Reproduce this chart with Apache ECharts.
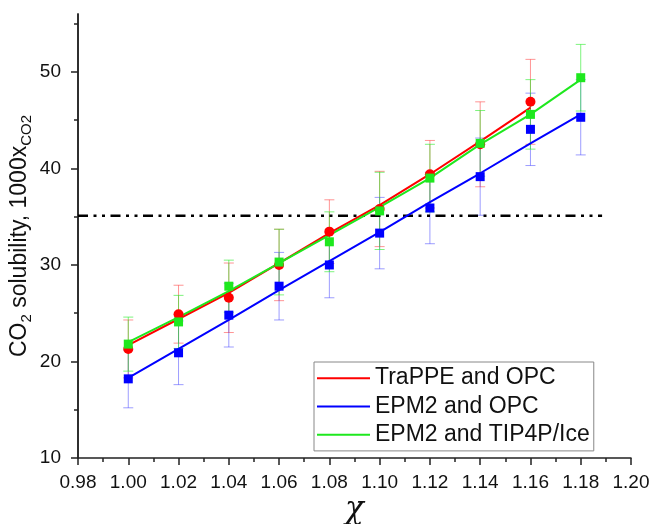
<!DOCTYPE html>
<html>
<head>
<meta charset="utf-8">
<script src="https://cdn.jsdelivr.net/npm/echarts@6/dist/echarts.min.js"></script>
<style>
  html, body { margin: 0; padding: 0; background: #ffffff; }
  #chart { width: 651px; height: 524px; }
</style>
</head>
<body>
<div id="chart"></div>
<script>
// ---- data ----
const xValues = [1.00, 1.02, 1.04, 1.06, 1.08, 1.10, 1.12, 1.14, 1.16, 1.18];
const xTickLabels = ['0.98', '1.00', '1.02', '1.04', '1.06', '1.08', '1.10', '1.12', '1.14', '1.16', '1.18', '1.20'];
const yTickValues = [10, 20, 30, 40, 50];
const yMinorTickValues = [15, 25, 35, 45, 55];

const seriesNames = ['TraPPE and OPC', 'EPM2 and OPC', 'EPM2 and TIP4P/Ice'];

const trappeOpc = [21.3, 24.9, 26.6, 30.0, 33.45, 35.8, 39.4, 42.5, 46.9];
const trappeOpcErr = [3.0, 3.0, 3.6, 3.7, 3.3, 3.9, 3.5, 4.4, 4.4];
const trappeOpcFit = [21.7, 24.4, 27.1, 30.2, 33.3, 36.2, 39.4, 42.8, 46.3];

const epm2Opc = [18.2, 20.9, 24.8, 27.8, 30.0, 33.3, 35.9, 39.15, 44.05, 45.3];
const epm2OpcErr = [3.0, 3.3, 3.3, 3.5, 3.4, 3.7, 3.7, 4.0, 3.75, 3.9];
const epm2OpcFit = [18.3, 21.3, 24.3, 27.4, 30.4, 33.4, 36.5, 39.5, 42.6, 45.6];

const epm2Tip = [21.8, 24.1, 27.8, 30.3, 32.4, 35.6, 39.0, 42.6, 45.6, 49.4];
const epm2TipErr = [2.8, 2.75, 2.7, 3.4, 3.1, 4.0, 3.5, 3.4, 3.6, 3.45];
const epm2TipFit = [22.0, 24.6, 27.3, 30.2, 33.1, 36.0, 39.0, 42.5, 45.6, 49.2];

const refLevel = 35.1;
const refLineX = [0.98, 1.1885];

// ---- styles ----
const RED = '#ff0000', BLUE = '#0000ff', GREEN = '#1ee81e';
const RED_ERR = 'rgba(255,60,60,0.55)', BLUE_ERR = 'rgba(60,60,255,0.5)', GREEN_ERR = 'rgba(40,235,40,0.6)';
const FONT = "'Liberation Sans', Arial, sans-serif";

function pairs(xs, ys) { return ys.map((v, i) => [xs[i], v]); }
function errData(xs, ys, es) { return ys.map((v, i) => [xs[i], v - es[i], v + es[i]]); }

function errSeries(name, data, color) {
  return {
    type: 'custom', name: name, z: 1, silent: true,
    encode: { x: 0, y: [1, 2] },
    data: data,
    renderItem: function (params, api) {
      const x = api.value(0), lo = api.value(1), hi = api.value(2);
      const pLo = api.coord([x, lo]);
      const pHi = api.coord([x, hi]);
      const hw = 5;
      const st = { stroke: color, lineWidth: 1, fill: null };
      return {
        type: 'group',
        children: [
          { type: 'line', shape: { x1: pLo[0], y1: pLo[1], x2: pHi[0], y2: pHi[1] }, style: st },
          { type: 'line', shape: { x1: pLo[0] - hw, y1: pLo[1], x2: pLo[0] + hw, y2: pLo[1] }, style: st },
          { type: 'line', shape: { x1: pHi[0] - hw, y1: pHi[1], x2: pHi[0] + hw, y2: pHi[1] }, style: st }
        ]
      };
    }
  };
}

function fitSeries(name, data, color) {
  return {
    type: 'line', name: name, z: 2, symbol: 'none', silent: true,
    data: data,
    lineStyle: { color: color, width: 2 },
    itemStyle: { color: color }
  };
}

function markerSeries(name, data, color, symbol, size) {
  return {
    type: 'scatter', name: name, z: 3, silent: true,
    symbol: symbol, symbolSize: size,
    data: data,
    itemStyle: { color: color, opacity: 1 }
  };
}

const chart = echarts.init(document.getElementById('chart'), null, { renderer: 'canvas' });

const option = {
  animation: false,
  backgroundColor: '#ffffff',
  textStyle: { fontFamily: FONT },
  grid: { left: 78, right: 20, top: 14, bottom: 66, containLabel: false, outerBoundsMode: 'none' },
  legend: {
    orient: 'vertical',
    left: 314, top: 362,
    data: seriesNames.map(n => ({ name: n, icon: 'rect' })),
    itemWidth: 53, itemHeight: 2, itemGap: 0,
    padding: [2, 4, 2, 3],
    borderColor: '#888888', borderWidth: 1,
    selectedMode: false,
    textStyle: { fontSize: 23, lineHeight: 28.3, color: '#111111', fontFamily: FONT }
  },
  xAxis: {
    type: 'value', min: 0.98, max: 1.20, interval: 0.02,
    name: 'χ', nameLocation: 'middle', nameGap: 36, nameMoveOverlap: false,
    nameTextStyle: { fontSize: 31, fontFamily: "'DejaVu Serif', 'Liberation Serif', serif", fontStyle: 'italic', color: '#111' },
    axisLine: { show: true, onZero: false, lineStyle: { color: '#222', width: 1.5 } },
    axisTick: { show: true, inside: false, length: 7, lineStyle: { color: '#222', width: 1.5 } },
    minorTick: { show: true, splitNumber: 2, length: 4, lineStyle: { color: '#222', width: 1.5 } },
    axisLabel: {
      margin: 15, fontSize: 19, color: '#111', fontFamily: FONT,
      formatter: function (v) {
        const idx = Math.round((v - 0.98) / 0.02);
        return xTickLabels[idx] !== undefined ? xTickLabels[idx] : v.toFixed(2);
      }
    },
    splitLine: { show: false }
  },
  yAxis: [
    {
      type: 'value', min: 10, max: 56, interval: 10,
      name: '{a|CO}{s|2}{a| solubility, 1000x}{s|CO2}',
      nameLocation: 'middle', nameRotate: 90, nameGap: 44, nameMoveOverlap: false,
      nameTextStyle: {
        color: '#111',
        rich: {
          a: { fontSize: 23, lineHeight: 28, fontFamily: FONT, color: '#111' },
          s: { fontSize: 15, lineHeight: 17, verticalAlign: 'bottom', fontFamily: FONT, color: '#111' }
        }
      },
      axisLine: { show: true, onZero: false, lineStyle: { color: '#222', width: 1.5 } },
      axisTick: { show: true, inside: false, length: 7, customValues: yTickValues, lineStyle: { color: '#222', width: 1.5 } },
      axisLabel: { margin: 17, fontSize: 19, color: '#111', fontFamily: FONT, customValues: yTickValues },
      splitLine: { show: false }
    },
    {
      type: 'value', min: 10, max: 56, interval: 5, position: 'left', offset: 0,
      axisLine: { show: true, onZero: false, lineStyle: { color: '#222', width: 1.5 } },
      axisTick: { show: true, inside: false, length: 4, customValues: yMinorTickValues, lineStyle: { color: '#222', width: 1.5 } },
      axisLabel: { show: false },
      splitLine: { show: false }
    }
  ],
  series: [
    errSeries('err-trappe', errData(xValues, trappeOpc, trappeOpcErr), RED_ERR),
    errSeries('err-epm2opc', errData(xValues, epm2Opc, epm2OpcErr), BLUE_ERR),
    errSeries('err-epm2tip', errData(xValues, epm2Tip, epm2TipErr), GREEN_ERR),
    {
      type: 'line', name: 'ref', z: 2, symbol: 'none', silent: true, yAxisIndex: 1,
      data: refLineX.map(x => [x, refLevel]),
      lineStyle: { color: '#000', width: 2.6, type: [10, 5.5, 3, 5.5, 3, 5.5] }
    },
    fitSeries(seriesNames[0], pairs(xValues, trappeOpcFit), RED),
    fitSeries(seriesNames[1], pairs(xValues, epm2OpcFit), BLUE),
    fitSeries(seriesNames[2], pairs(xValues, epm2TipFit), GREEN),
    markerSeries('pts-trappe', pairs(xValues, trappeOpc), RED, 'circle', 10),
    markerSeries('pts-epm2opc', pairs(xValues, epm2Opc), BLUE, 'rect', 9),
    markerSeries('pts-epm2tip', pairs(xValues, epm2Tip), GREEN, 'rect', 9)
  ]
};

chart.setOption(option);
</script>
</body>
</html>
